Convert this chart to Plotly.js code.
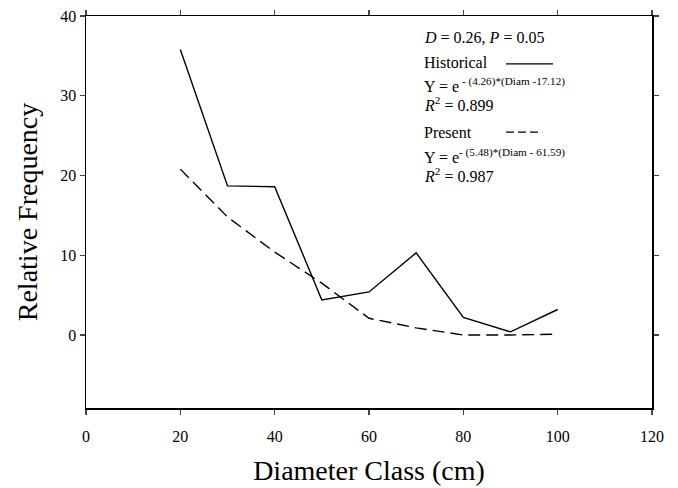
<!DOCTYPE html>
<html>
<head>
<meta charset="utf-8">
<script src="https://cdn.plot.ly/plotly-3.0.1.min.js"></script>
<style>html,body{margin:0;padding:0;background:#fff;}#chart{width:678px;height:488px;}</style>
</head>
<body>
<div id="chart"></div>
<script>
const diameterClass = [20, 30, 40, 50, 60, 70, 80, 90, 100];
const historical = [35.8, 18.7, 18.6, 4.4, 5.4, 10.3, 2.2, 0.4, 3.2];
const present = [20.8, 14.8, 10.4, 6.5, 2.1, 0.9, 0.0, 0.0, 0.1];
const xTicks = [0, 20, 40, 60, 80, 100, 120];
const yTicks = [0, 10, 20, 30, 40];

const serif = "'Liberation Serif', 'Times New Roman', serif";

const traces = [
  {x: diameterClass, y: historical, mode: 'lines', name: 'Historical',
   line: {color: '#000', width: 1.4}},
  {x: diameterClass, y: present, mode: 'lines', name: 'Present',
   line: {color: '#000', width: 1.4, dash: '12px,6px'}}
];

const annFont = {family: serif, size: 16, color: '#000'};
function ann(text, y) {
  return {xref: 'paper', yref: 'paper', x: 0.594, y: y, xanchor: 'left', yanchor: 'middle',
          text: text, showarrow: false, font: annFont, align: 'left'};
}

const layout = {
  width: 678, height: 488,
  margin: {l: 86, r: 26, t: 16, b: 80},
  paper_bgcolor: '#fff', plot_bgcolor: '#fff',
  showlegend: false,
  font: {family: serif, color: '#000'},
  xaxis: {
    range: [0, 120], tickvals: xTicks, ticks: 'outside', ticklen: 5, tickwidth: 1.2,
    ticklabelstandoff: 8,
    showline: true, linewidth: 1.5, linecolor: '#000', mirror: 'ticks',
    showgrid: false, zeroline: false, tickfont: {family: serif, size: 16},
    title: {text: 'Diameter Class (cm)', font: {family: serif, size: 28}, standoff: 16}
  },
  yaxis: {
    range: [-9.15, 40], tickvals: yTicks, ticks: 'outside', ticklen: 5, tickwidth: 1.2,
    showline: true, linewidth: 1.5, linecolor: '#000', mirror: 'ticks',
    showgrid: false, zeroline: false, tickfont: {family: serif, size: 16},
    title: {text: 'Relative Frequency', font: {family: serif, size: 28}, standoff: 14}
  },
  annotations: [
    ann('<i>D</i> = 0.26, <i>P</i> = 0.05', 0.946),
    ann('Historical', 0.882),
    ann('Y = e<sup> - (4.26)*(Diam -17.12)</sup>', 0.825),
    ann('<i>R</i><sup>2</sup> = 0.899', 0.776),
    ann('Present', 0.704),
    ann('Y = e<sup>- (5.48)*(Diam - 61.59)</sup>', 0.643),
    ann('<i>R</i><sup>2</sup> = 0.987', 0.594)
  ],
  shapes: [
    {type: 'line', xref: 'paper', yref: 'paper', x0: 0.742, x1: 0.825, y0: 0.878, y1: 0.878,
     line: {color: '#000', width: 1.2}},
    {type: 'line', xref: 'paper', yref: 'paper', x0: 0.742, x1: 0.806, y0: 0.704, y1: 0.704,
     line: {color: '#000', width: 1.2, dash: '8px,4px'}}
  ]
};

Plotly.newPlot('chart', traces, layout, {displayModeBar: false, staticPlot: true});
</script>
</body>
</html>
